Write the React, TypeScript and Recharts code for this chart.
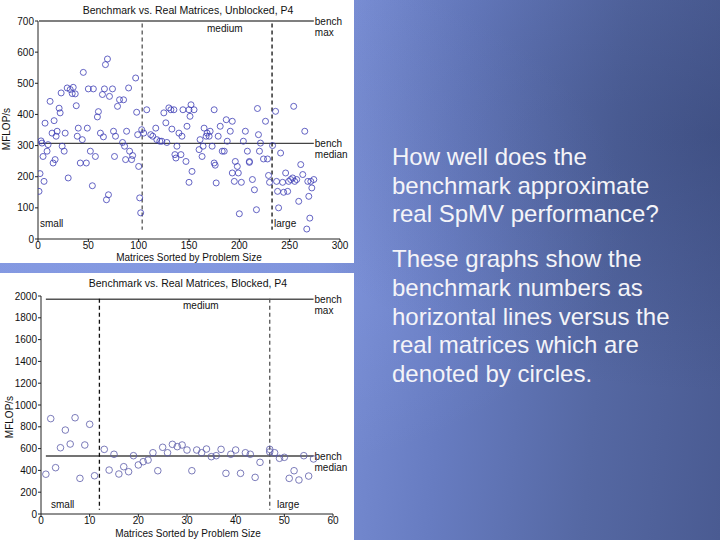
import React from 'react';
import { ScatterChart, Scatter, XAxis, YAxis, ReferenceLine } from 'recharts';

// ---------- Data: Unblocked (top chart) ----------
const unblockedIndex = [1,2,3,4,5,6,7,9,10,12,14,15,16,17,18,19,21,22,23,24,26,27,29,30,32,34,35,37,38,39,40,42,44,45,48,49,50,52,54,55,57,59,60,62,64,65,66,67,68,69,70,71,74,75,76,77,79,81,84,85,86,87,88,90,91,93,94,97,98,99,100,101,102,103,105,
  108,112,114,117,118,121,123,125,127,128,130,132,133,135,136,137,138,140,142,143,144,147,148,150,150,151,152,153,155,160,161,163,164,165,167,168,170,171,173,175,175,176,177,179,181,183,185,187,188,191,193,193,195,196,198,199,200,202,204,206,208,210,210,213,215,217,218,219,220,221,224,226,228,229,230,233,
  236,237,238,239,241,243,244,246,248,249,251,253,254,255,257,259,261,263,265,267,268,269,270,271,272,274];
const unblockedMflops = [153,210,315,308,265,185,372,282,303,442,340,244,380,255,330,346,420,405,469,298,282,340,485,196,480,467,487,466,428,330,356,244,319,535,244,356,482,282,171,482,265,392,409,340,464,328,482,560,126,578,142,458,482,346,265,330,426,447,310,447,298,255,346,485,282,255,268,517,407,335,233,132,84,351,340,
  415,335,330,356,319,314,314,405,373,310,421,415,353,415,271,260,298,340,271,330,415,249,362,415,182,394,431,217,415,287,319,265,298,356,330,340,330,346,298,244,415,237,180,330,362,282,282,383,314,346,378,212,185,249,233,212,81,182,314,346,282,246,249,191,158,94,419,335,282,308,257,378,257,204,182,300,
  410,185,153,100,276,182,150,212,153,185,191,196,426,185,191,121,239,207,346,32,185,137,67,185,164,191];

// ---------- Data: Blocked (bottom chart) ----------
const blockedIndex = [1,2,3,4,5,6,7,8,9,10,11,13,14,15,16,17,18,19,20,21,22,23,24,25,26,27,28,29,30,31,32,33,34,35,36,37,38,39,40,41,42,43,44,45,47,47,48,49,50,51,52,53,54,55,56];
const blockedMflops = [365,875,425,608,770,642,883,327,633,823,351,593,403,548,367,434,388,535,450,480,495,562,397,612,562,639,618,633,587,397,587,562,596,526,535,593,373,548,587,373,562,548,336,474,593,570,562,511,520,327,397,312,535,348,505];

// ---------- Benchmark lines and regions ----------
const unblockedBench = { max: 700, median: 307, lineStart: 1, lineEnd: 274, smallEnd: 103.5, largeStart: 232.5, dashTop: 692, dashBottom: 30 };
const blockedBench = { max: 1970, median: 532, lineStart: 1, lineEnd: 56, smallEnd: 12, largeStart: 47, dashTop: 1975, dashBottom: 40 };

const unblockedXTicks = [0, 50, 100, 150, 200, 250, 300];
const unblockedYTicks = [0, 100, 200, 300, 400, 500, 600, 700];
const blockedXTicks = [0, 10, 20, 30, 40, 50, 60];
const blockedYTicks = [0, 200, 400, 600, 800, 1000, 1200, 1400, 1600, 1800, 2000];

const bulletText1 = ['How well does the', 'benchmark approximate', 'real SpMV performance?'];
const bulletText2 = ['These graphs show the', 'benchmark numbers as', 'horizontal lines versus the', 'real matrices which are', 'denoted by circles.'];

const FONT = '"Liberation Sans", Arial, Helvetica, sans-serif';

const toPoints = (xs: number[], ys: number[]) => xs.map((x, i) => ({ x, y: ys[i] }));

const CircleShape = (color: string, r: number) => (props: any) => (
  <circle cx={props.cx} cy={props.cy} r={r} fill="none" stroke={color} strokeWidth={0.8} />
);

const benchLabel = (l1: string, l2: string) => (props: any) => {
  const vb = props.viewBox || {};
  const x = (vb.x || 0) + (vb.width || 0) + 1;
  const y = vb.y || 0;
  return (
    <g>
      <text x={x} y={y + 3.5} fontSize={10} fontFamily={FONT} fill="#111">{l1}</text>
      <text x={x} y={y + 15} fontSize={10} fontFamily={FONT} fill="#111">{l2}</text>
    </g>
  );
};

type PanelProps = {
  xs: number[];
  ys: number[];
  bench: any;
  xTicks: number[];
  yTicks: number[];
  width: number;
  height: number;
  margin: any;
  yAxisWidth: number;
  xAxisHeight: number;
  markerColor: string;
  markerR: number;
  leftDashColor: string;
  rightDashColor: string;
};

const Panel = (p: PanelProps) => {
  const data = toPoints(p.xs, p.ys);
  const xMax = p.xTicks[p.xTicks.length - 1];
  const yMax = p.yTicks[p.yTicks.length - 1];
  const b = p.bench;
  return (
    <ScatterChart width={p.width} height={p.height} margin={p.margin}>
      <XAxis
        type="number"
        dataKey="x"
        domain={[0, xMax]}
        ticks={p.xTicks}
        interval={0}
        height={p.xAxisHeight}
        tickSize={3}
        tickMargin={0}
        tick={{ fontSize: 10, fontFamily: FONT, fill: '#111' }}
        axisLine={{ stroke: '#222' }}
        tickLine={{ stroke: '#222' }}
        allowDataOverflow
      />
      <YAxis
        type="number"
        dataKey="y"
        domain={[0, yMax]}
        ticks={p.yTicks}
        interval={0}
        width={p.yAxisWidth}
        tickSize={3}
        tickMargin={1}
        tick={{ fontSize: 10, fontFamily: FONT, fill: '#111' }}
        axisLine={{ stroke: '#222' }}
        tickLine={{ stroke: '#222' }}
        allowDataOverflow
      />
      <ReferenceLine
        segment={[{ x: b.lineStart, y: b.max }, { x: b.lineEnd, y: b.max }]}
        stroke="#555"
        strokeWidth={1.6}
        label={benchLabel('bench', 'max')}
      />
      <ReferenceLine
        segment={[{ x: b.lineStart, y: b.median }, { x: b.lineEnd, y: b.median }]}
        stroke="#444"
        strokeWidth={1.4}
        label={benchLabel('bench', 'median')}
      />
      <ReferenceLine
        segment={[{ x: b.smallEnd, y: b.dashTop }, { x: b.smallEnd, y: b.dashBottom }]}
        stroke={p.leftDashColor}
        strokeWidth={1.3}
        strokeDasharray="4 3"
      />
      <ReferenceLine
        segment={[{ x: b.largeStart, y: b.dashTop }, { x: b.largeStart, y: b.dashBottom }]}
        stroke={p.rightDashColor}
        strokeWidth={1.3}
        strokeDasharray="4 3"
      />
      <Scatter data={data} isAnimationActive={false} shape={CircleShape(p.markerColor, p.markerR)} />
    </ScatterChart>
  );
};

const txt = (extra: any): any => ({
  position: 'absolute',
  fontFamily: FONT,
  fontSize: 10.5,
  color: '#111',
  whiteSpace: 'nowrap',
  lineHeight: 1,
  ...extra,
});

export default function App() {
  return (
    <div
      style={{
        position: 'absolute',
        left: 0,
        top: 0,
        width: 720,
        height: 540,
        overflow: 'hidden',
        background:
          'linear-gradient(95deg, #7f94dc 0%, #7a8fd6 45%, #677cc1 62%, #5568a3 82%, #4a5b92 100%)',
      }}
    >
      <div style={{ position: 'absolute', inset: 0, background: 'radial-gradient(ellipse at 20% 40%, rgba(160,180,255,0.25), rgba(0,0,0,0) 60%)' }} />
      <div style={{ position: 'absolute', inset: 0, background: 'radial-gradient(ellipse at 100% 25%, rgba(40,55,100,0.35), rgba(0,0,0,0) 45%)' }} />

      {/* Top panel */}
      <div style={{ position: 'absolute', left: 0, top: 0, width: 354, height: 263, background: '#fff' }}>
        <Panel
          xs={unblockedIndex}
          ys={unblockedMflops}
          bench={unblockedBench}
          xTicks={unblockedXTicks}
          yTicks={unblockedYTicks}
          width={354}
          height={263}
          margin={{ top: 21, right: 14, bottom: 0, left: 0 }}
          yAxisWidth={38}
          xAxisHeight={24}
          markerColor="#3d3db5"
          markerR={3}
          leftDashColor="#555"
          rightDashColor="#111"
        />
        <div style={txt({ left: 0, width: 376, top: 5, textAlign: 'center' })}>Benchmark vs. Real Matrices, Unblocked, P4</div>
        <div style={txt({ left: 0, width: 378, top: 253, textAlign: 'center', fontSize: 10 })}>Matrices Sorted by Problem Size</div>
        <div style={txt({ left: -18, top: 124, width: 50, textAlign: 'center', transform: 'rotate(-90deg)', fontSize: 10 })}>MFLOP/s</div>
        <div style={txt({ left: 207, top: 24, fontSize: 10 })}>medium</div>
        <div style={txt({ left: 40, top: 219, fontSize: 10 })}>small</div>
        <div style={txt({ left: 274, top: 219, fontSize: 10 })}>large</div>
      </div>

      {/* Bottom panel */}
      <div style={{ position: 'absolute', left: 0, top: 273, width: 354, height: 267, background: '#fff' }}>
        <Panel
          xs={blockedIndex}
          ys={blockedMflops}
          bench={blockedBench}
          xTicks={blockedXTicks}
          yTicks={blockedYTicks}
          width={354}
          height={267}
          margin={{ top: 23, right: 21, bottom: 0, left: 0 }}
          yAxisWidth={41}
          xAxisHeight={26}
          markerColor="#5a5aa8"
          markerR={3.3}
          leftDashColor="#111"
          rightDashColor="#555"
        />
        <div style={txt({ left: 0, width: 376, top: 5, textAlign: 'center' })}>Benchmark vs. Real Matrices, Blocked, P4</div>
        <div style={txt({ left: 0, width: 376, top: 256, textAlign: 'center', fontSize: 10 })}>Matrices Sorted by Problem Size</div>
        <div style={txt({ left: -15, top: 139, width: 50, textAlign: 'center', transform: 'rotate(-90deg)', fontSize: 10 })}>MFLOP/s</div>
        <div style={txt({ left: 183, top: 28, fontSize: 10 })}>medium</div>
        <div style={txt({ left: 51, top: 227, fontSize: 10 })}>small</div>
        <div style={txt({ left: 277, top: 227, fontSize: 10 })}>large</div>
      </div>

      {/* Slide text */}
      <div style={{ position: 'absolute', left: 392, top: 143, fontFamily: FONT, fontSize: 24, lineHeight: '28.7px', color: '#f4f4f8', whiteSpace: 'nowrap' }}>
        {bulletText1.map((l, i) => (
          <div key={i}>{l}</div>
        ))}
        <div style={{ height: 16 }} />
        {bulletText2.map((l, i) => (
          <div key={i}>{l}</div>
        ))}
      </div>
    </div>
  );
}
